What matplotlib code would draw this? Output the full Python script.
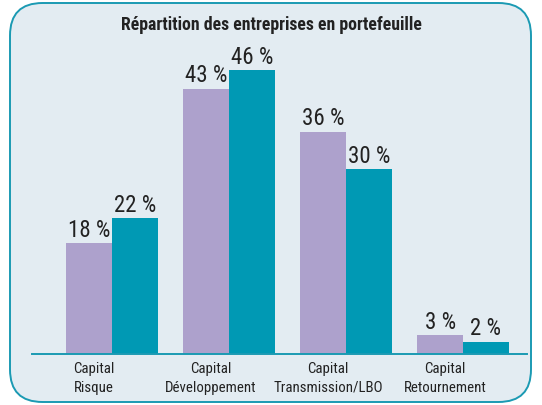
import matplotlib
matplotlib.use("Agg")
import matplotlib.pyplot as plt
from matplotlib.patches import FancyBboxPatch
import numpy as np

plt.rcParams["font.family"] = ["Roboto Condensed", "Archivo Narrow", "DejaVu Sans"]
plt.rcParams["font.stretch"] = "condensed"

# Data
categories = ["Capital\nRisque", "Capital\nDéveloppement", "Capital\nTransmission/LBO", "Capital\nRetournement"]
serie_a = [18, 43, 36, 3]
serie_b = [22, 46, 30, 2]

color_a = "#ada1cc"
color_b = "#0099b4"
border = "#1b9ab3"
bg = "#e3ecf2"

fig = plt.figure(figsize=(5.42, 4.05), dpi=100)

# Rounded frame
frame = FancyBboxPatch((10 / 542, 3 / 405), 521 / 542, 399 / 405,
                       boxstyle="round,pad=0,rounding_size=0.06",
                       transform=fig.transFigure, facecolor=bg,
                       edgecolor=border, linewidth=1.4, mutation_aspect=542 / 405,
                       zorder=-5)
fig.patches.append(frame)

fig.text(0.5, 1 - 25 / 405, "Répartition des entreprises en portefeuille",
         ha="center", va="center", fontsize=12.8, fontweight="bold", color="#222222")

ax = fig.add_axes([32 / 542, 1 - 354 / 405, 495 / 542, 308.5 / 405])
ax.set_facecolor("none")

x = np.arange(len(categories))
w = 0.39
bars_a = ax.bar(x - w / 2, serie_a, w, color=color_a)
bars_b = ax.bar(x + w / 2, serie_b, w, color=color_b)

for bars, vals in ((bars_a, serie_a), (bars_b, serie_b)):
    for b, v in zip(bars, vals):
        ax.annotate(f"{v} %", (b.get_x() + b.get_width() / 2, v),
                    xytext=(0, 1), textcoords="offset points",
                    ha="center", va="bottom", fontsize=16.5, color="#222222")

ax.set_xlim(-0.684, 3.547)
ax.set_ylim(0, 50)
ax.set_yticks([])
# category labels sit slightly left of the group centres
ax.set_xticks(x - 0.155)
ax.set_xticklabels(categories, fontsize=10.7, color="#222222", linespacing=1.4)
ax.tick_params(axis="x", length=0, pad=6)
for s in ["top", "left", "right"]:
    ax.spines[s].set_visible(False)
ax.spines["bottom"].set_color(border)
ax.spines["bottom"].set_linewidth(1.4)

fig.savefig("out.png", dpi=100, facecolor="white")
